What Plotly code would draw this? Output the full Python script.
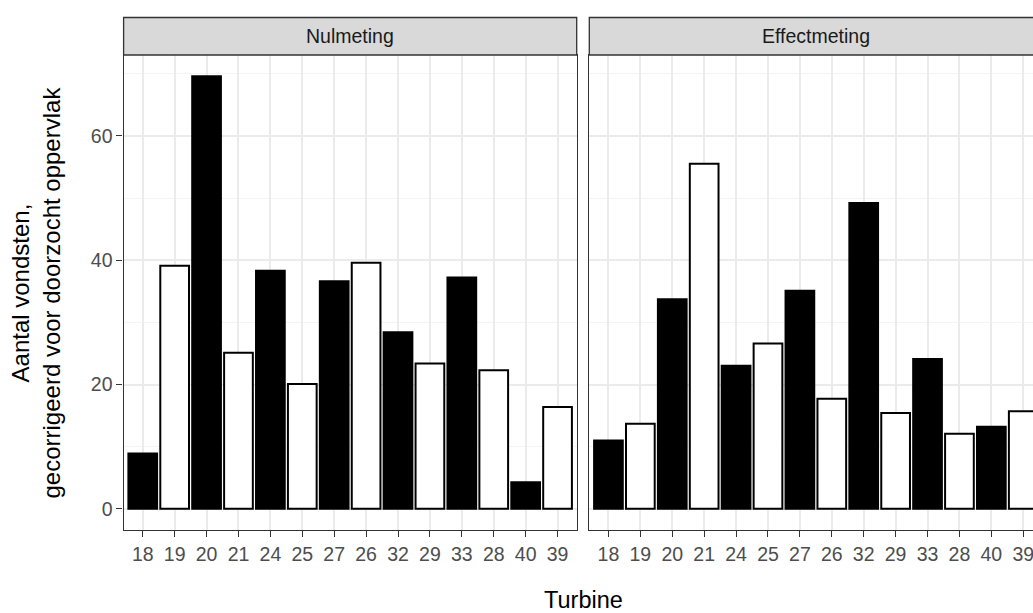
import plotly.graph_objects as go

# ---- data ----
turbines = ["18", "19", "20", "21", "24", "25", "27", "26", "32", "29", "33", "28", "40", "39"]
nulmeting = [8.9, 39.1, 69.6, 25.1, 38.3, 20.1, 36.6, 39.6, 28.4, 23.4, 37.2, 22.3, 4.3, 16.4]
effectmeting = [11.0, 13.7, 33.7, 55.5, 23.0, 26.6, 35.1, 17.7, 49.2, 15.4, 24.1, 12.1, 13.2, 15.7]
bar_group = ["A", "B", "A", "B", "A", "B", "A", "B", "A", "B", "A", "B", "A", "B"]
panel_titles = ["Nulmeting", "Effectmeting"]
y_ticks = [0, 20, 40, 60]
x_title = "Turbine"
y_title = "Aantal vondsten,<br>gecorrigeerd voor doorzocht oppervlak"

# ---- styling / geometry ----
W, H = 1033, 613
FONT = "Liberation Sans, Arial, sans-serif"
group_colors = {"A": "#000000", "B": "#FFFFFF"}
fills = [group_colors[g] for g in bar_group]

def fx(p):
    return p / W

def fy(p):
    return 1 - p / H

L0, L1 = 123.6, 576.7      # left panel px
R0, R1 = 589.3, 1042.4     # right panel px (extends past image edge)
PT, PB = 55.0, 530.0       # panel top/bottom px
ST = 17.5                  # strip top px
ncat = len(turbines)
unit = (L1 - L0) / (ncat - 1 + 1.2)
xr_left = [-0.6, ncat - 1 + 0.6]
xr_right = [-0.6, -0.6 + (W - R0) / unit]
yr = [-3.4, 73.0]

fig = go.Figure()
for vals, xa, ya in [(nulmeting, "x", "y"), (effectmeting, "x2", "y2")]:
    fig.add_trace(go.Bar(
        x=turbines, y=vals, width=0.9, xaxis=xa, yaxis=ya,
        marker=dict(color=fills, line=dict(color="#000000", width=2)),
        showlegend=False,
    ))

grid_major = "#EBEBEB"
grid_minor = "#F4F4F4"
tickfont = dict(family=FONT, size=19.5, color="#4D4D4D")

xcommon = dict(type="category", categoryorder="array", categoryarray=turbines,
               showgrid=True, gridcolor=grid_major, gridwidth=1.5,
               ticks="outside", ticklen=6, tickwidth=1.3, tickcolor="#333333",
               tickfont=tickfont, showline=True, linecolor="#333333", linewidth=1.3,
               mirror=True, zeroline=False, fixedrange=True)
ycommon = dict(range=yr, tickmode="array", tickvals=y_ticks,
               showgrid=True, gridcolor=grid_major, gridwidth=1.5,
               minor=dict(tickmode="linear", tick0=0, dtick=10, showgrid=True,
                          gridcolor=grid_minor, gridwidth=1, ticks=""),
               zeroline=False, showline=True, linecolor="#333333", linewidth=1.3,
               domain=[fy(PB), fy(PT)], fixedrange=True)

fig.update_layout(
    width=W, height=H, autosize=False,
    margin=dict(l=0, r=0, t=0, b=0),
    paper_bgcolor="white", plot_bgcolor="white",
    font=dict(family=FONT),
    xaxis=dict(xcommon, domain=[fx(L0), fx(L1)], range=xr_left, anchor="y"),
    xaxis2=dict(xcommon, domain=[fx(R0), 1.0], range=xr_right, anchor="y2"),
    yaxis=dict(ycommon, anchor="x", mirror=True, ticks="outside", ticklen=6,
               tickwidth=1.3, tickcolor="#333333", tickfont=tickfont),
    yaxis2=dict(ycommon, anchor="x2", mirror=False, ticks="", showticklabels=False),
    bargap=0.1,
)

# strips
for (a, b), title in zip([(L0, L1), (R0, R1)], panel_titles):
    fig.add_shape(type="rect", xref="paper", yref="paper",
                  x0=fx(a), x1=fx(b), y0=fy(PT), y1=fy(ST),
                  fillcolor="#D9D9D9", line=dict(color="#333333", width=1.3), layer="above")
    fig.add_annotation(xref="paper", yref="paper", x=fx((a + b) / 2), y=fy((PT + ST) / 2),
                       text=title, showarrow=False, xanchor="center", yanchor="middle",
                       font=dict(family=FONT, size=19.5, color="#1A1A1A"))

# axis titles
fig.add_annotation(xref="paper", yref="paper", x=fx((L0 + R1) / 2), y=fy(599.5),
                   text=x_title, showarrow=False, xanchor="center", yanchor="middle",
                   font=dict(family=FONT, size=23.5, color="#000000"))
fig.add_annotation(xref="paper", yref="paper", x=fx(35), y=fy((PT + PB) / 2),
                   text=y_title, showarrow=False, xanchor="center", yanchor="middle",
                   textangle=-90, font=dict(family=FONT, size=24, color="#000000"))

fig.write_html("out.html", config={"displayModeBar": False},
               post_script="document.body.style.margin='0';document.body.style.overflow='hidden';")
